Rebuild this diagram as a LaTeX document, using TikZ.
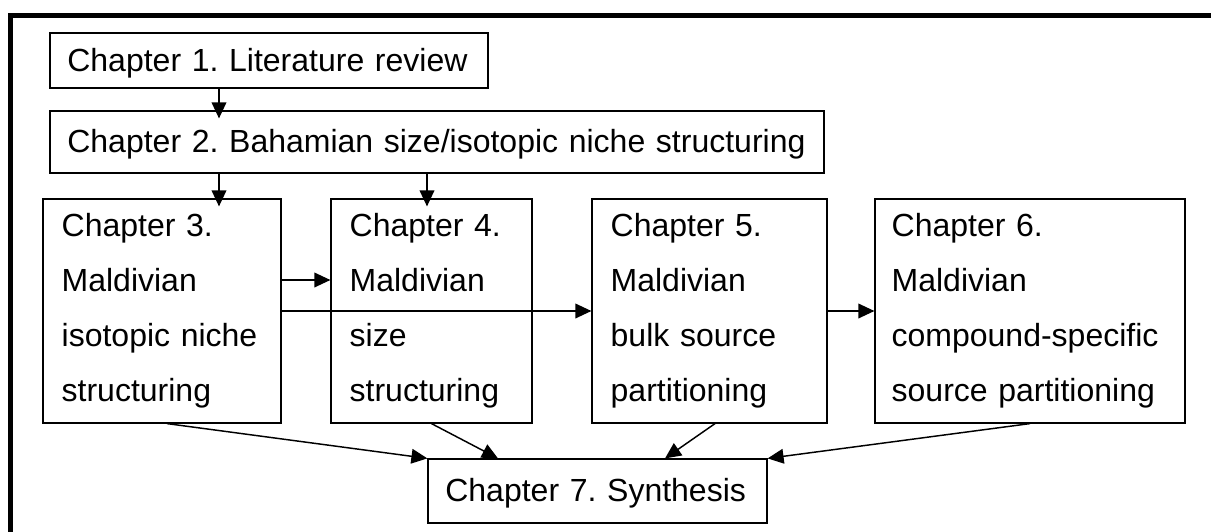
\documentclass[tikz,border=0pt]{standalone}
\usepackage{fontspec}
\setmainfont{Liberation Sans}
\usepackage{tikz}
\usetikzlibrary{arrows.meta}
\frenchspacing

\begin{document}
\begin{tikzpicture}[line cap=butt,line join=miter,>={Triangle[length=12pt,width=11pt]},x=0.75pt,y=-0.75pt,
  chbox/.style={draw,line width=0.9pt,rectangle,inner xsep=14pt,inner ysep=0pt,align=left,
    font=\fontsize{24}{41.25}\selectfont},
  oneline/.style={chbox,inner xsep=13pt,text height=22pt,text depth=6pt},
  link/.style={->,line width=1.1pt}]
\useasboundingbox (0,0) rectangle (1211,532);
\draw[line width=3.75pt] (10,532) -- (10,15.5) -- (1211,15.5);
\node[oneline,minimum width=328.5pt,minimum height=41.25pt,text width=302.5pt] (c1) at (269,60.5) {Chapter 1. Literature review};
\node[oneline,minimum width=580.5pt,minimum height=46.5pt,text width=554.5pt] (c2) at (437,142) {Chapter 2. Bahamian size/isotopic niche structuring};
\node[chbox,minimum width=178.5pt,minimum height=168pt,text width=150.5pt] (c3) at (162,311) {Chapter 3.\\Maldivian\\isotopic niche\\structuring};
\node[chbox,minimum width=150.75pt,minimum height=168pt,text width=122.75pt] (c4) at (431.5,311) {Chapter 4.\\Maldivian\\size\\structuring};
\node[chbox,minimum width=176.25pt,minimum height=168pt,text width=148.25pt] (c5) at (709.5,311) {Chapter 5.\\Maldivian\\bulk source\\partitioning};
\node[chbox,inner xsep=12.5pt,minimum width=232.5pt,minimum height=168pt,text width=207.5pt] (c6) at (1030,311) {Chapter 6.\\Maldivian\\compound-specific\\source partitioning};
\node[oneline,minimum width=254.25pt,minimum height=48pt,text width=228.25pt] (c7) at (597.5,491) {Chapter 7. Synthesis};
\draw[link,shorten >=-6pt] (c1.south -| 219,0) -- (c2.north -| 219,0);
\draw[link,shorten >=-6pt] (c2.south -| 219,0) -- (c3.north -| 219,0);
\draw[link,shorten >=-6pt] (c2.south -| 427,0) -- (c4.north -| 427,0);
\draw[link] (c3.east |- 0,280) -- (c4.west |- 0,280);
\draw[link] (c3.east) -- (c5.west);
\draw[link] (c5.east) -- (c6.west);
\draw[link] (c3.south -| 167,0) -- (c7.north west);
\draw[link] (c4.south) -- (c7.north -| 498,0);
\draw[link] (c5.south -| 715,0) -- (c7.north -| 665,0);
\draw[link] (c6.south) -- (c7.north east);
\end{tikzpicture}
\end{document}
